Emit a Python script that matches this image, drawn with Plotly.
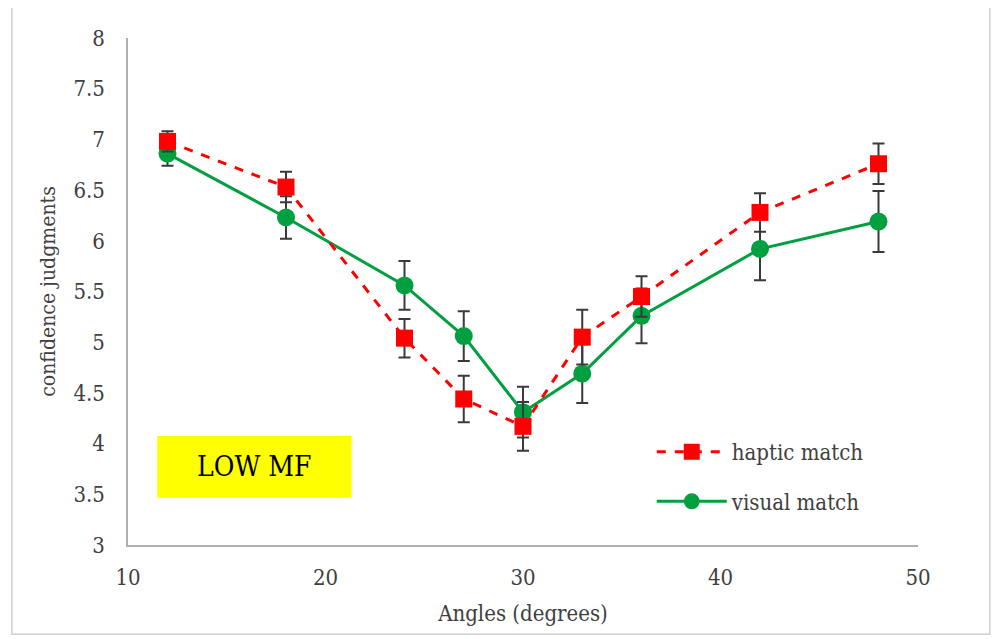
import plotly.graph_objects as go

angles = [12, 18, 24, 27, 30, 33, 36, 42, 48]
haptic = [6.98, 6.53, 5.04, 4.44, 4.17, 5.05, 5.45, 6.28, 6.76]
haptic_err = [0.10, 0.15, 0.19, 0.23, 0.24, 0.27, 0.20, 0.19, 0.20]
visual = [6.86, 6.23, 5.56, 5.06, 4.31, 4.69, 5.26, 5.92, 6.19]
visual_err = [0.12, 0.21, 0.24, 0.245, 0.25, 0.29, 0.27, 0.31, 0.30]

FONT = "DejaVu Serif Condensed, Liberation Serif, serif"
ERR = dict(type="data", visible=True, color="#3a3a3a", thickness=2, width=6)

fig = go.Figure()
fig.add_trace(go.Scatter(
    x=angles, y=visual, name="visual match", legendgroup="v", legendrank=2,
    mode="lines+markers",
    line=dict(color="#00A040", width=3),
    marker=dict(symbol="circle", size=18, color="#00A040"),
    error_y=dict(array=visual_err, **ERR),
))
fig.add_trace(go.Scatter(
    x=angles, y=haptic, name="haptic match", legendgroup="h", legendrank=1,
    mode="lines+markers",
    line=dict(color="#FF0000", width=3, dash="dash"),
    marker=dict(symbol="square", size=17, color="#FF0000"),
    error_y=dict(array=haptic_err, **ERR),
))

# yellow label box
fig.add_shape(type="rect", xref="paper", yref="paper",
              x0=0.037, x1=0.283, y0=0.093, y1=0.215,
              fillcolor="#FFFF00", line=dict(width=0), layer="below")
fig.add_annotation(text="LOW MF", xref="paper", yref="paper", x=0.16, y=0.154,
                   xanchor="center", yanchor="middle", showarrow=False,
                   font=dict(family=FONT, size=28, color="black"))
# outer frame
fig.add_shape(type="rect", xref="paper", yref="paper",
              x0=-0.147, x1=1.091, y0=-0.176, y1=1.065,
              line=dict(color="#cfcfcf", width=1.5))

fig.update_layout(
    width=1000, height=639,
    margin=dict(l=120, r=90, t=30, b=102),
    paper_bgcolor="white", plot_bgcolor="white",
    font=dict(family=FONT, size=21, color="#404040"),
    showlegend=True,
    legend=dict(x=0.663, y=0.225, xanchor="left", yanchor="top",
                traceorder="grouped", tracegroupgap=18,
                font=dict(family=FONT, size=22, color="#404040"),
                bgcolor="rgba(0,0,0,0)", itemwidth=70),
)
fig.update_xaxes(range=[10, 50], dtick=10, showgrid=False, zeroline=False,
                 showline=True, linecolor="#b0b0b0", linewidth=1.5,
                 ticks="", ticklabelstandoff=12, automargin=False,
                 tickfont=dict(family=FONT, size=22, color="#404040"),
                 title=dict(text="Angles (degrees)", font=dict(size=22), standoff=16))
fig.update_yaxes(range=[3, 8], dtick=0.5, showgrid=False, zeroline=False,
                 showline=True, linecolor="#b0b0b0", linewidth=1.5,
                 ticks="", ticklabelstandoff=17, automargin=False,
                 tickfont=dict(family=FONT, size=22, color="#404040"),
                 title=dict(text="confidence judgments", font=dict(size=21), standoff=12))

fig.write_html("out.html")
